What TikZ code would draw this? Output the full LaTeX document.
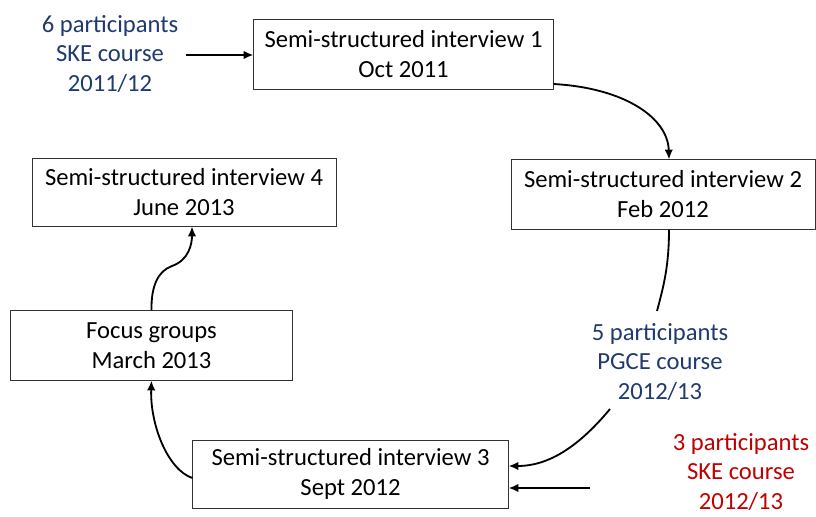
\documentclass[tikz,border=0pt]{standalone}
\usepackage{fontspec}
\setmainfont{Carlito}
\usetikzlibrary{arrows.meta}
\definecolor{darkblue}{HTML}{1F3A70}
\definecolor{darkred}{HTML}{C00000}
\begin{document}
\begin{tikzpicture}[x=0.025cm,y=-0.025cm,
  stage/.style = {rectangle,draw=black!80,semithick,align=center,inner sep=0pt,
                  font=\fontsize{17.5}{21.3}\selectfont},
  group/.style = {align=center,font=\fontsize{17.5}{21.3}\selectfont},
  flow/.style  = {-{Latex[length=7pt,width=6pt]},line width=1.3pt}]
\useasboundingbox (0,0) rectangle (816,516);
% stages
\node[stage,minimum width=7.48cm,minimum height=1.73cm] (int1) at (403.5,54.5) {Semi-structured interview 1\\Oct 2011};
\node[stage,minimum width=7.6cm,minimum height=1.73cm] (int2) at (663,194.5) {Semi-structured interview 2\\Feb 2012};
\node[stage,minimum width=7.6cm,minimum height=1.7cm] (int4) at (184,192) {Semi-structured interview 4\\June 2013};
\node[stage,minimum width=7.03cm,minimum height=1.73cm] (focus) at (151.5,345.5) {Focus groups\\March 2013};
\node[stage,minimum width=7.88cm,minimum height=1.7cm] (int3) at (350.5,474) {Semi-structured interview 3\\Sept 2012};
% participant groups
\node[group,text=darkblue] (ske1) at (110,54) {6 participants\\SKE course\\2011/12};
\node[group,text=darkblue] (pgce) at (660,362) {5 participants\\PGCE course\\2012/13};
\node[group,text=darkred] (ske2) at (741,472) {3 participants\\SKE course\\2012/13};
\coordinate (pgcetop) at (657,311);
\coordinate (pgcebot) at (610,409);
\coordinate (ske2w) at (590,488);
% connectors
\draw[flow] (ske1.east) ++(3,1) coordinate (ske1e) (ske1e) -- (int1.west |- ske1e);
\draw[flow] (int1.east |- 0,84) .. controls (625,88) and (668,118) .. (int2.north -| 669,0);
\draw[line width=1.3pt] (int2.south -| 669,0) .. controls (669,265) and (664,285) .. (pgcetop);
\draw[flow] (pgcebot) .. controls (580,445) and (550,466) .. (int3.east |- 0,466);
\draw[flow] (ske2w) -- (int3.east |- ske2w);
\draw[flow] (int3.west |- 0,478) .. controls (168,470) and (150,425) .. (focus.south);
\draw[flow] (focus.north) .. controls (151,286) and (158,271) .. (172,266) .. controls (189,260) and (192,244) .. (int4.south -| 192,0);
\end{tikzpicture}
\end{document}
